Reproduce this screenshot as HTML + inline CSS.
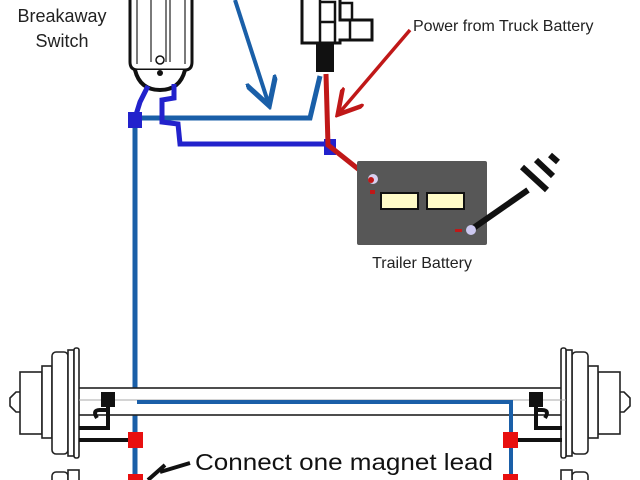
<!DOCTYPE html>
<html><head><style>body{margin:0;background:#fff}svg{display:block}</style></head><body>
<svg width="640" height="480" viewBox="0 0 640 480" xmlns="http://www.w3.org/2000/svg" font-family="Liberation Sans, sans-serif">
<defs>
<marker id="ab" markerWidth="8" markerHeight="8" refX="6" refY="4" orient="auto" markerUnits="strokeWidth"><path d="M0,0 L7,4 L0,8" fill="none" stroke="#1a5fa8" stroke-width="1.3"/></marker>
<marker id="ar" markerWidth="8" markerHeight="8" refX="6" refY="4" orient="auto" markerUnits="strokeWidth"><path d="M0,0 L7,4 L0,8" fill="none" stroke="#c01818" stroke-width="1.3"/></marker>
</defs>
<!-- breakaway switch -->
<text x="62" y="22" font-size="18" text-anchor="middle" fill="#222">Breakaway</text>
<text x="62" y="47" font-size="18" text-anchor="middle" fill="#222">Switch</text>
<path d="M130,0 L130,62 Q130,70 138,70 L185,70 Q192,70 192,62 L192,0" fill="#fff" stroke="#111" stroke-width="3"/>
<path d="M137,0 V64 M151,0 V62 M166,0 V62 M170,0 V62 M185,0 V64" stroke="#333" stroke-width="1.3"/>
<circle cx="160" cy="60" r="4" fill="#fff" stroke="#111" stroke-width="1.5"/>
<path d="M135,70 Q140,90 160,90 Q180,90 185,70" fill="#fff" stroke="#111" stroke-width="4"/>
<circle cx="160" cy="73" r="3" fill="#111"/>
<!-- top connector -->
<path d="M302,0 V43 H340 V40 H372 V20 H340 V0" fill="#fff" stroke="#111" stroke-width="3"/>
<path d="M320,0 V43 M320,2 H335 V43 M320,22 H335 M350,20 V40 M340,3 H352 V20" fill="none" stroke="#111" stroke-width="2.5"/>
<rect x="316" y="44" width="18" height="28" fill="#111"/>
<!-- blue wires -->
<path d="M235,0 L268,102" stroke="#1a5fa8" stroke-width="4" fill="none" marker-end="url(#ab)"/>
<path d="M135,480 V118 H310 L320,76" stroke="#1a5fa8" stroke-width="5" fill="none"/>
<path d="M148,86 L140,102 L135,118" stroke="#2222cc" stroke-width="5" fill="none"/>
<rect x="128" y="112" width="14" height="16" fill="#2222cc"/>
<path d="M174,84 L174,98 L162,100 L162,122 L178,124 L180,144 L330,144" stroke="#2222cc" stroke-width="5" fill="none"/>
<rect x="324" y="139" width="12" height="16" fill="#2222cc"/>
<!-- red -->
<path d="M326,74 L328,145 L372,180" stroke="#c01818" stroke-width="5" fill="none"/>
<path d="M410,30 L340,112" stroke="#c01818" stroke-width="3.5" fill="none" marker-end="url(#ar)"/>
<text x="413" y="31" font-size="16" fill="#222">Power from Truck Battery</text>
<!-- battery -->
<rect x="357" y="161" width="130" height="84" rx="2" fill="#575757"/>
<rect x="381" y="193" width="37" height="16" fill="#fffbc8" stroke="#111" stroke-width="2"/>
<rect x="427" y="193" width="37" height="16" fill="#fffbc8" stroke="#111" stroke-width="2"/>
<circle cx="373" cy="179" r="5" fill="#d8d0f0"/>
<circle cx="371" cy="180" r="3" fill="#c01818"/>
<rect x="370" y="190" width="5" height="4" fill="#c01818"/>
<rect x="455" y="229" width="7" height="3" fill="#c01818"/>
<path d="M472,229 L528,190" stroke="#111" stroke-width="6"/>
<circle cx="471" cy="230" r="5" fill="#ccc8f0"/>
<path d="M522,167 L547,190 M536,160 L553,176 M550,155 L558,162" stroke="#111" stroke-width="6"/>
<text x="422" y="268" font-size="16" text-anchor="middle" fill="#222">Trailer Battery</text>
<!-- axle -->
<g fill="#fff" stroke="#222" stroke-width="1.6">
<rect x="78" y="388" width="488" height="27"/>
<path d="M10,398 L16,392 H22 V412 H16 L10,406Z"/>
<rect x="20" y="372" width="22" height="62"/>
<rect x="42" y="366" width="10" height="72"/>
<rect x="52" y="352" width="16" height="102" rx="4"/>
<rect x="68" y="350" width="6" height="106"/>
<rect x="74" y="348" width="5" height="110" rx="2"/>
<path d="M630,398 L624,392 H618 V412 H624 L630,406Z"/>
<rect x="598" y="372" width="22" height="62"/>
<rect x="588" y="366" width="10" height="72"/>
<rect x="572" y="352" width="16" height="102" rx="4"/>
<rect x="566" y="350" width="6" height="106"/>
<rect x="561" y="348" width="5" height="110" rx="2"/>
<rect x="52" y="472" width="16" height="20" rx="4"/>
<rect x="68" y="470" width="11" height="20"/>
<rect x="572" y="472" width="16" height="20" rx="4"/>
<rect x="561" y="470" width="11" height="20"/>
</g>
<path d="M79,400 H566" stroke="#aaa" stroke-width="1"/>
<!-- magnets -->
<rect x="101" y="392" width="14" height="15" fill="#111"/>
<path d="M108,406 V428 H79 M79,440 H135 M97,418 Q92,410 100,410 H108" stroke="#111" stroke-width="4" fill="none"/>
<rect x="529" y="392" width="14" height="15" fill="#111"/>
<path d="M536,406 V428 H562 M510,440 H562 M545,418 Q550,410 542,410 H536" stroke="#111" stroke-width="4" fill="none"/>
<path d="M137,402 H511 V480" stroke="#1a5fa8" stroke-width="4" fill="none"/>
<rect x="128" y="432" width="15" height="16" fill="#e81010"/>
<rect x="128" y="474" width="15" height="10" fill="#e81010"/>
<rect x="503" y="432" width="15" height="16" fill="#e81010"/>
<rect x="503" y="474" width="15" height="10" fill="#e81010"/>
<text x="195" y="470" font-size="23" fill="#111" textLength="298" lengthAdjust="spacingAndGlyphs">Connect one magnet lead</text>
<path d="M190,463 L160,472 M148,480 L165,465" stroke="#111" stroke-width="4" fill="none"/>
</svg>
</body></html>
